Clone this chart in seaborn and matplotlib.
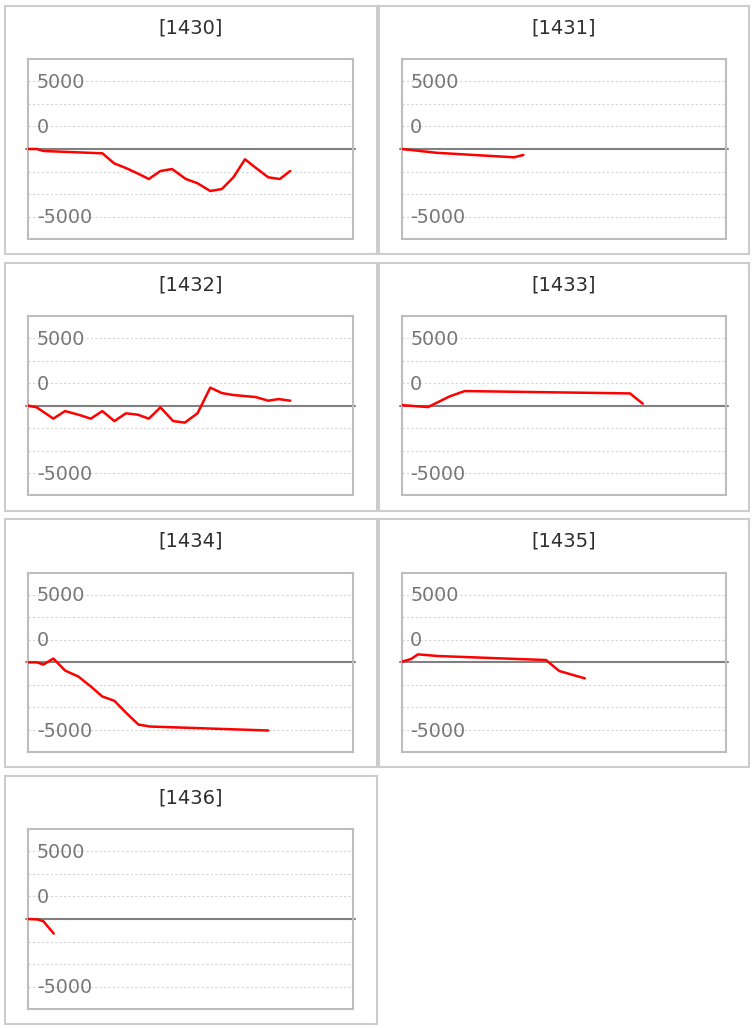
import matplotlib
matplotlib.use("Agg")
import matplotlib.pyplot as plt
from matplotlib.patches import Rectangle
import seaborn as sns
import pandas as pd

# ---- data ----
panel_titles = ["[1430]", "[1431]", "[1432]", "[1433]", "[1434]", "[1435]", "[1436]"]

x_1430 = [0, 0.73, 1.3, 6.4, 7.4, 8.4, 9.4, 10.4, 11.4, 12.4, 13.6, 14.6, 15.7, 16.7, 17.7, 18.7, 19.6, 20.7, 21.7, 22.6]
y_1430 = [0, 0, -220, -480, -1590, -2100, -2690, -3330, -2440, -2220, -3330, -3800, -4660, -4440, -3140, -1140, -2060, -3140, -3330, -2440]

x_1431 = [0, 1.3, 3.0, 9.7, 10.5]
y_1431 = [0, -180, -420, -920, -660]

x_1432 = [0, 0.73, 2.16, 3.17, 4.32, 5.39, 6.39, 7.43, 8.42, 9.45, 10.4, 11.4, 12.5, 13.5, 14.6, 15.7, 16.7, 17.7, 19.6, 20.7, 21.6, 22.6]
y_1432 = [0, -190, -1440, -600, -1000, -1440, -600, -1710, -850, -1000, -1440, -190, -1710, -1880, -850, 2000, 1400, 1180, 960, 555, 730, 555]

x_1433 = [0, 2.27, 4.14, 5.43, 19.7, 20.8]
y_1433 = [60, -155, 1030, 1620, 1360, 220]

x_1434 = [0, 0.73, 1.3, 2.16, 3.17, 4.32, 5.39, 6.39, 7.43, 8.42, 9.5, 10.5, 20.7]
y_1434 = [0, 0, -245, 420, -910, -1575, -2680, -3790, -4270, -5570, -6900, -7120, -7560]

x_1435 = [0, 0.8, 1.4, 3.13, 12.45, 13.6, 15.8]
y_1435 = [65, 365, 885, 700, 255, -965, -1775]

x_1436 = [0, 0.8, 1.3, 2.2]
y_1436 = [0, -50, -250, -1620]

series_x = [x_1430, x_1431, x_1432, x_1433, x_1434, x_1435, x_1436]
series_y = [y_1430, y_1431, y_1432, y_1433, y_1434, y_1435, y_1436]

grid_values = [7500, 5000, 2500, -2500, -5000, -7500]
label_values = [7500, 2500, -7500]
tick_labels = ["5000", "0", "-5000"]

# ---- style ----
sns.set_style("white")
plt.rcParams["font.family"] = ["DejaVu Sans"]

W, H = 754, 1028
fig = plt.figure(figsize=(W / 100, H / 100), dpi=100)
fig.patch.set_facecolor("white")

def fx(px):
    return px / W

def fy(py):
    return 1 - py / H

col_panel_x = [5, 379]
col_panel_w = [372, 370]
col_plot_x = [28.3, 401.7]
plot_w = 324.5
row_pitch = 256.67
panel_top0 = 6
panel_h = 248
plot_top0 = 59.3
plot_h = 179.4

for i, title in enumerate(panel_titles):
    r, c = divmod(i, 2)
    # outer panel box
    ptop = panel_top0 + r * row_pitch
    fig.patches.append(Rectangle((fx(col_panel_x[c]), fy(ptop + panel_h)),
                                 col_panel_w[c] / W, panel_h / H,
                                 transform=fig.transFigure, fill=False,
                                 edgecolor="#cccccc", linewidth=1.5))
    fig.text(fx(col_panel_x[c] + col_panel_w[c] / 2), fy(ptop + 22), title,
             ha="center", va="center", fontsize=14, color="#2e2e2e")

    top = plot_top0 + r * row_pitch
    ax = fig.add_axes([fx(col_plot_x[c]), fy(top + plot_h), plot_w / W, plot_h / H])
    df = pd.DataFrame({"x": series_x[i], "y": series_y[i]})
    for g in grid_values:
        ax.axhline(g, color="#d4d4d4", linewidth=0.8, linestyle=(0, (2, 2)), zorder=1)
    ax.axhline(0, xmin=-0.006, xmax=1.006, color="#808080", linewidth=1.5,
               zorder=2, clip_on=False)
    sns.lineplot(data=df, x="x", y="y", ax=ax, color="#ff0000", linewidth=1.8,
                 zorder=3, sort=False)
    ax.set_xlim(0, 28)
    ax.set_ylim(-9950, 9950)
    ax.set_xticks([])
    ax.set_yticks([])
    ax.set_xlabel("")
    ax.set_ylabel("")
    for s in ax.spines.values():
        s.set_color("#bdbdbd")
        s.set_linewidth(1.5)
    for v, lab in zip(label_values, tick_labels):
        ax.text(8.5 / plot_w, v - 120, lab, transform=ax.get_yaxis_transform(),
                ha="left", va="center", fontsize=13.8, color="#777777", zorder=4)

fig.savefig("out.png", dpi=100, facecolor="white")
